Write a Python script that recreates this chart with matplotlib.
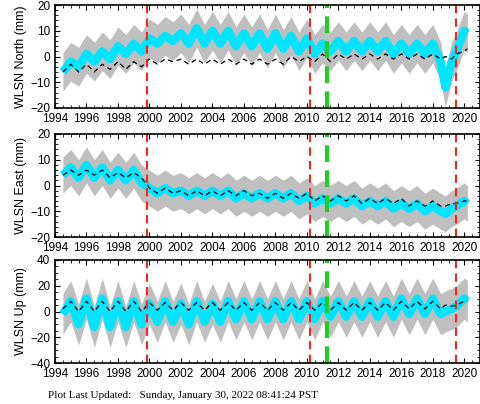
import numpy as np
import matplotlib.pyplot as plt

t = [1994.5, 1995.0, 1995.5, 1996.0, 1996.5, 1997.0, 1997.5, 1998.0, 1998.5, 1999.0, 1999.5,
     2000.0, 2000.5, 2001.0, 2001.5, 2002.0, 2002.5, 2003.0, 2003.5, 2004.0, 2004.5, 2005.0,
     2005.5, 2006.0, 2006.5, 2007.0, 2007.5, 2008.0, 2008.5, 2009.0, 2009.5, 2010.0, 2010.5,
     2011.0, 2011.5, 2012.0, 2012.5, 2013.0, 2013.5, 2014.0, 2014.5, 2015.0, 2015.5, 2016.0,
     2016.5, 2017.0, 2017.5, 2018.0, 2018.5, 2018.8, 2019.2, 2019.5, 2020.0, 2020.2]

north = [-6, -2, -4, 1, -2, 2, -1, 4, 1, 5, 2, 7, 5, 8, 6, 9, 5, 11, 5, 10, 5, 10, 4, 9, 4, 9, 3,
         9, 3, 8, 2, 7, 1, 5, 2, 6, 2, 6, 2, 6, 2, 6, 1, 5, 1, 5, 1, 5, -2, -12, -2, 2, 10, 9]
north_model = [-6, -3, -6, -3, -6, -3, -5, -2, -5, -2, -4, -1, -3, -1, -2, -1, -3, -1, -3, -1, -3,
               -1, -3, -1, -3, -1, -3, -1, -3, 0, -2, 0, -2, 1, -2, 1, -1, 1, -1, 1, -1, 1, -1, 1,
               -1, 1, -1, 1, -1, 0, -1, 1, 2, 3]
east = [4, 7, 3, 8, 3, 7, 2, 6, 2, 6, 1, -1, -3, -1, -3, -2, -4, -2, -4, -2, -4, -2, -5, -3, -5,
        -3, -5, -3, -5, -3, -6, -4, -7, -5, -7, -5, -7, -5, -8, -6, -8, -6, -9, -7, -9, -7, -10,
        -8, -10, -11, -9, -8, -6, -7]
east_model = [4, 6, 4, 6, 4, 6, 3, 5, 3, 5, 3, -1, -3, -1, -3, -2, -4, -2, -4, -2, -4, -2, -4, -2,
              -4, -3, -5, -3, -5, -3, -5, -3, -6, -4, -6, -4, -6, -4, -7, -5, -7, -5, -7, -5, -8,
              -6, -8, -6, -8, -8, -7, -7, -6, -6]
up = [-2, 8, -10, 10, -12, 10, -12, 8, -12, 8, -10, 6, -8, 8, -8, 6, -10, 8, -8, 6, -8, 8, -6, 8,
      -6, 8, -6, 8, -6, 8, -6, 8, -6, 8, -4, 8, -4, 8, -4, 8, -4, 8, -4, 10, -2, 10, -2, 10, -2,
      0, 2, 4, 10, 8]
up_model = [2, 8, 0, 8, 0, 8, 0, 8, 0, 8, 0, 7, 1, 7, 1, 7, 1, 7, 1, 7, 1, 7, 1, 7, 1, 7, 1, 7,
            1, 7, 1, 7, 1, 7, 1, 7, 1, 7, 1, 7, 1, 7, 1, 8, 2, 8, 2, 8, 2, 5, 4, 5, 8, 8]

panels = [("WLSN North (mm)", north, north_model, 3.5, (-20, 20), [-20, -10, 0, 10, 20]),
          ("WLSN East (mm)", east, east_model, 3.0, (-20, 20), [-20, -10, 0, 10, 20]),
          ("WLSN Up (mm)", up, up_model, 12.0, (-40, 40), [-40, -20, 0, 20, 40])]
breaks_red = [1999.85, 2010.2, 2019.5]
break_green = 2011.3
years = list(range(1994, 2021, 2))

plt.rcParams['font.family'] = ['Liberation Sans', 'DejaVu Sans']
fig = plt.figure(figsize=(4.81, 4.04), dpi=100)
tops = [5, 134, 260]
for (label, y, m, err, lim, ticks), top in zip(panels, tops):
    ax = fig.add_axes([55 / 481, 1 - (top + 103) / 404, 425 / 481, 103 / 404])
    y = np.array(y, float)
    ax.fill_between(t, y - err - 4, y + err + 4, color='#b0b0b0', lw=0, alpha=0.8)
    ax.plot(t, y, color='#00e5ff', lw=6, solid_capstyle='butt')
    ax.plot(t, m, color='black', lw=0.9, ls=(0, (4, 3)))
    for b in breaks_red:
        ax.axvline(b, color='#ff2020', lw=1.5, ls=(0, (4, 2.5)))
    ax.axvline(break_green, color='#22cc22', lw=3, ls=(0, (4, 2)))
    ax.set_xlim(1994, 2021)
    ax.set_ylim(*lim)
    ax.set_yticks(ticks)
    ax.set_xticks(years)
    ax.minorticks_on()
    ax.tick_params(direction='in', labelsize=8.5, top=True, right=True, which='both')
    ax.set_ylabel(label, fontsize=9, labelpad=2)
    for s in ax.spines.values():
        s.set_linewidth(1.2)

fig.text(48 / 481, 1 - 395 / 404, "Plot Last Updated:   Sunday, January 30, 2022 08:41:24 PST",
         fontsize=8, family=['Liberation Serif'], va='center')
fig.savefig('out.png', dpi=100)
